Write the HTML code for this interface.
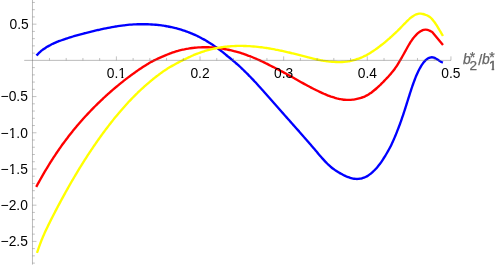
<!DOCTYPE html>
<html lang="en"><head><meta charset="utf-8"><title>Plot</title>
<style>html,body{margin:0;padding:0;background:#fff;width:498px;height:266px;overflow:hidden}</style>
</head><body>
<svg width="498" height="266" viewBox="0 0 498 266" style="position:absolute;left:0;top:0;will-change:transform">
<rect width="498" height="266" fill="#fff"/>
<path d="M36.50 55.49 C36.72 55.26 37.38 54.53 37.84 54.07 C38.29 53.61 38.76 53.15 39.24 52.71 C39.72 52.26 40.21 51.83 40.71 51.41 C41.21 50.99 41.72 50.58 42.24 50.18 C42.76 49.78 43.29 49.39 43.82 49.01 C44.36 48.64 44.91 48.27 45.46 47.91 C46.01 47.55 46.57 47.20 47.14 46.86 C47.71 46.52 48.28 46.19 48.85 45.87 C49.43 45.54 50.01 45.23 50.60 44.92 C51.19 44.62 51.78 44.32 52.37 44.03 C52.97 43.74 53.57 43.46 54.17 43.19 C54.78 42.91 55.39 42.65 56.00 42.39 C56.61 42.13 57.22 41.88 57.84 41.64 C58.46 41.39 59.08 41.15 59.70 40.92 C60.32 40.68 60.95 40.46 61.57 40.23 C62.20 40.01 62.83 39.79 63.46 39.57 C64.08 39.35 64.72 39.14 65.35 38.93 C65.98 38.72 66.61 38.51 67.24 38.30 C67.88 38.10 68.51 37.89 69.15 37.69 C69.78 37.49 70.42 37.29 71.05 37.09 C71.69 36.89 72.33 36.70 72.96 36.50 C73.60 36.31 74.24 36.12 74.88 35.93 C75.52 35.74 76.16 35.56 76.80 35.37 C77.44 35.19 78.08 35.01 78.72 34.83 C79.36 34.65 80.00 34.47 80.64 34.29 C81.29 34.12 81.93 33.94 82.57 33.77 C83.22 33.60 83.86 33.43 84.51 33.26 C85.15 33.10 85.80 32.93 86.44 32.77 C87.09 32.61 87.74 32.45 88.38 32.29 C89.03 32.13 89.68 31.97 90.33 31.81 C90.97 31.66 91.62 31.51 92.27 31.35 C92.92 31.20 93.57 31.05 94.22 30.89 C94.87 30.74 95.52 30.59 96.17 30.44 C96.82 30.29 97.47 30.14 98.12 29.99 C98.77 29.85 99.43 29.70 100.08 29.56 C100.73 29.42 101.38 29.27 102.04 29.14 C102.69 29.00 103.34 28.86 104.00 28.72 C104.65 28.59 105.30 28.45 105.96 28.32 C106.61 28.19 107.27 28.06 107.92 27.93 C108.58 27.81 109.24 27.68 109.89 27.56 C110.55 27.44 111.20 27.32 111.86 27.20 C112.52 27.08 113.18 26.97 113.83 26.85 C114.49 26.74 115.15 26.63 115.81 26.52 C116.47 26.42 117.13 26.31 117.79 26.21 C118.44 26.11 119.10 26.01 119.76 25.91 C120.43 25.81 121.09 25.72 121.75 25.63 C122.41 25.54 123.07 25.45 123.73 25.37 C124.39 25.29 125.06 25.20 125.72 25.13 C126.38 25.05 127.04 24.97 127.71 24.90 C128.37 24.83 129.03 24.76 129.70 24.70 C130.36 24.64 131.03 24.60 131.69 24.55 C132.35 24.51 133.02 24.47 133.68 24.44 C134.35 24.40 135.02 24.37 135.68 24.34 C136.35 24.31 137.01 24.29 137.68 24.27 C138.34 24.25 139.01 24.23 139.68 24.22 C140.34 24.21 141.01 24.20 141.68 24.20 C142.34 24.20 143.01 24.20 143.68 24.20 C144.34 24.21 145.01 24.22 145.68 24.23 C146.34 24.24 147.01 24.26 147.68 24.28 C148.34 24.30 149.01 24.32 149.67 24.35 C150.34 24.38 151.01 24.42 151.67 24.46 C152.34 24.49 153.00 24.54 153.67 24.59 C154.34 24.64 155.00 24.69 155.67 24.75 C156.33 24.81 156.99 24.87 157.66 24.94 C158.32 25.01 158.99 25.08 159.65 25.16 C160.31 25.24 160.97 25.33 161.64 25.42 C162.30 25.51 162.96 25.60 163.62 25.70 C164.28 25.80 164.94 25.91 165.60 26.02 C166.26 26.13 166.92 26.25 167.57 26.37 C168.23 26.50 168.89 26.62 169.54 26.76 C170.20 26.89 170.85 27.03 171.50 27.17 C172.15 27.32 172.81 27.46 173.46 27.61 C174.11 27.77 174.76 27.92 175.40 28.08 C176.05 28.25 176.70 28.41 177.34 28.59 C177.99 28.76 178.63 28.94 179.27 29.13 C179.92 29.31 180.56 29.50 181.20 29.70 C181.83 29.89 182.47 30.10 183.11 30.30 C183.74 30.51 184.37 30.72 185.01 30.94 C185.64 31.16 186.27 31.39 186.90 31.61 C187.52 31.84 188.15 32.08 188.77 32.32 C189.40 32.56 190.02 32.81 190.64 33.06 C191.26 33.31 191.87 33.57 192.49 33.83 C193.10 34.09 193.72 34.36 194.33 34.63 C194.94 34.91 195.55 35.18 196.15 35.47 C196.76 35.75 197.36 36.04 197.96 36.33 C198.56 36.63 199.16 36.93 199.76 37.23 C200.35 37.53 200.95 37.84 201.54 38.16 C202.13 38.47 202.72 38.79 203.30 39.11 C203.89 39.44 204.47 39.77 205.05 40.11 C205.64 40.45 206.21 40.79 206.79 41.13 C207.37 41.48 207.94 41.83 208.51 42.18 C209.08 42.53 209.65 42.89 210.21 43.25 C210.78 43.61 211.34 43.98 211.90 44.34 C212.47 44.71 213.02 45.09 213.58 45.46 C214.14 45.84 214.69 46.22 215.24 46.60 C215.79 46.98 216.34 47.37 216.89 47.76 C217.43 48.15 217.98 48.54 218.52 48.94 C219.06 49.34 219.60 49.74 220.14 50.14 C220.67 50.54 221.21 50.94 221.74 51.35 C222.27 51.77 222.80 52.20 223.33 52.63 C223.86 53.05 224.39 53.49 224.91 53.92 C225.43 54.36 225.95 54.79 226.47 55.23 C226.99 55.67 227.51 56.13 228.03 56.56 C228.54 56.98 229.05 57.37 229.56 57.78 C230.08 58.19 230.58 58.61 231.09 59.02 C231.60 59.44 232.10 59.86 232.61 60.28 C233.11 60.70 233.61 61.12 234.11 61.55 C234.61 61.97 235.10 62.40 235.60 62.83 C236.09 63.26 236.59 63.69 237.08 64.13 C237.57 64.56 238.06 65.00 238.55 65.44 C239.03 65.87 239.52 66.31 240.00 66.76 C240.49 67.20 240.97 67.66 241.45 68.12 C241.93 68.58 242.41 69.03 242.88 69.49 C243.36 69.95 243.84 70.42 244.31 70.88 C244.78 71.34 245.26 71.81 245.73 72.27 C246.20 72.74 246.67 73.20 247.13 73.67 C247.60 74.14 248.07 74.61 248.53 75.08 C249.00 75.55 249.46 76.02 249.92 76.50 C250.39 76.97 250.85 77.46 251.31 77.95 C251.77 78.43 252.23 78.92 252.69 79.40 C253.14 79.89 253.60 80.38 254.06 80.87 C254.51 81.35 254.97 81.84 255.42 82.33 C255.88 82.82 256.33 83.31 256.78 83.80 C257.23 84.30 257.68 84.79 258.13 85.28 C258.59 85.77 259.04 86.27 259.48 86.76 C259.93 87.26 260.38 87.75 260.83 88.25 C261.28 88.74 261.72 89.24 262.17 89.73 C262.62 90.23 263.06 90.73 263.51 91.22 C263.95 91.72 264.40 92.22 264.84 92.71 C265.29 93.21 265.73 93.71 266.18 94.21 C266.62 94.71 267.06 95.21 267.50 95.71 C267.95 96.21 268.39 96.70 268.83 97.20 C269.27 97.70 269.72 98.20 270.16 98.70 C270.60 99.20 271.04 99.70 271.48 100.20 C271.92 100.70 272.36 101.20 272.80 101.70 C273.24 102.20 273.69 102.71 274.13 103.21 C274.57 103.71 275.01 104.21 275.45 104.71 C275.89 105.21 276.33 105.71 276.77 106.21 C277.21 106.71 277.65 107.21 278.09 107.71 C278.53 108.21 278.97 108.71 279.41 109.21 C279.85 109.71 280.30 110.21 280.74 110.71 C281.18 111.21 281.62 111.71 282.06 112.20 C282.50 112.70 282.94 113.20 283.39 113.70 C283.83 114.20 284.27 114.70 284.71 115.20 C285.16 115.70 285.60 116.19 286.04 116.69 C286.48 117.19 286.92 117.69 287.37 118.19 C287.81 118.69 288.25 119.19 288.69 119.68 C289.14 120.18 289.58 120.68 290.02 121.18 C290.47 121.68 290.91 122.18 291.35 122.68 C291.79 123.17 292.24 123.67 292.68 124.17 C293.12 124.67 293.56 125.17 294.01 125.67 C294.45 126.17 294.89 126.67 295.33 127.17 C295.77 127.67 296.22 128.17 296.66 128.67 C297.10 129.16 297.54 129.66 297.98 130.16 C298.42 130.66 298.86 131.17 299.31 131.67 C299.75 132.17 300.19 132.67 300.63 133.17 C301.07 133.67 301.51 134.17 301.95 134.67 C302.39 135.17 302.83 135.67 303.27 136.18 C303.71 136.68 304.15 137.18 304.58 137.68 C305.02 138.19 305.46 138.69 305.90 139.19 C306.34 139.70 306.77 140.20 307.21 140.70 C307.65 141.21 308.09 141.71 308.52 142.22 C308.96 142.72 309.39 143.23 309.83 143.73 C310.27 144.24 310.70 144.75 311.14 145.25 C311.57 145.76 312.00 146.27 312.44 146.77 C312.87 147.28 313.30 147.79 313.74 148.30 C314.17 148.81 314.60 149.31 315.03 149.82 C315.46 150.33 315.89 150.84 316.33 151.35 C316.76 151.86 317.19 152.37 317.62 152.88 C318.05 153.39 318.48 153.89 318.91 154.40 C319.34 154.91 319.77 155.41 320.21 155.91 C320.64 156.42 321.08 156.92 321.51 157.41 C321.95 157.91 322.39 158.41 322.83 158.90 C323.28 159.39 323.72 159.88 324.17 160.37 C324.62 160.86 325.07 161.34 325.53 161.82 C325.98 162.29 326.44 162.77 326.91 163.23 C327.37 163.70 327.84 164.16 328.32 164.61 C328.80 165.06 329.28 165.51 329.77 165.95 C330.26 166.38 330.76 166.81 331.26 167.23 C331.77 167.65 332.28 168.06 332.80 168.46 C333.32 168.86 333.85 169.25 334.39 169.63 C334.92 170.02 335.47 170.39 336.02 170.76 C336.56 171.12 337.12 171.48 337.68 171.83 C338.24 172.18 338.81 172.52 339.38 172.86 C339.95 173.19 340.52 173.52 341.10 173.84 C341.68 174.16 342.26 174.48 342.85 174.78 C343.44 175.09 344.03 175.39 344.62 175.67 C345.22 175.95 345.82 176.23 346.43 176.49 C347.04 176.75 347.65 176.99 348.27 177.22 C348.89 177.45 349.51 177.66 350.14 177.85 C350.78 178.04 351.41 178.22 352.06 178.36 C352.70 178.51 353.35 178.64 354.01 178.73 C354.66 178.82 355.32 178.89 355.99 178.93 C356.65 178.96 357.32 178.96 357.98 178.93 C358.65 178.89 359.32 178.82 359.98 178.71 C360.64 178.60 361.28 178.45 361.95 178.26 C362.63 178.07 363.35 177.84 364.02 177.58 C364.70 177.32 365.37 177.02 366.02 176.69 C366.67 176.37 367.30 176.00 367.91 175.63 C368.53 175.25 369.13 174.84 369.71 174.42 C370.29 174.00 370.86 173.56 371.41 173.11 C371.96 172.66 372.51 172.19 373.02 171.71 C373.54 171.24 374.02 170.75 374.50 170.25 C374.99 169.75 375.46 169.25 375.92 168.74 C376.39 168.22 376.84 167.70 377.29 167.18 C377.73 166.65 378.17 166.12 378.60 165.58 C379.03 165.05 379.45 164.50 379.87 163.96 C380.28 163.41 380.70 162.86 381.09 162.31 C381.49 161.75 381.86 161.19 382.23 160.63 C382.60 160.07 382.97 159.51 383.33 158.94 C383.70 158.38 384.06 157.81 384.41 157.23 C384.77 156.66 385.11 156.09 385.46 155.51 C385.81 154.94 386.15 154.36 386.49 153.78 C386.83 153.20 387.16 152.61 387.49 152.03 C387.82 151.44 388.15 150.86 388.48 150.27 C388.80 149.68 389.12 149.09 389.44 148.49 C389.76 147.90 390.07 147.31 390.38 146.71 C390.69 146.11 390.99 145.51 391.28 144.91 C391.58 144.31 391.85 143.71 392.14 143.10 C392.42 142.50 392.69 141.89 392.97 141.29 C393.24 140.68 393.51 140.07 393.78 139.46 C394.05 138.85 394.32 138.24 394.58 137.62 C394.84 137.01 395.10 136.40 395.36 135.78 C395.61 135.17 395.87 134.55 396.12 133.93 C396.37 133.31 396.62 132.69 396.86 132.07 C397.11 131.45 397.35 130.83 397.59 130.20 C397.83 129.58 398.07 128.96 398.30 128.33 C398.54 127.71 398.78 127.08 399.02 126.45 C399.26 125.83 399.50 125.20 399.73 124.57 C399.96 123.94 400.19 123.31 400.42 122.68 C400.65 122.05 400.88 121.42 401.10 120.78 C401.33 120.15 401.55 119.52 401.77 118.88 C401.99 118.25 402.21 117.62 402.42 116.98 C402.64 116.35 402.85 115.71 403.07 115.07 C403.28 114.44 403.49 113.80 403.70 113.17 C403.91 112.53 404.11 111.89 404.32 111.26 C404.52 110.62 404.73 109.99 404.93 109.35 C405.14 108.71 405.34 108.08 405.54 107.44 C405.74 106.81 405.94 106.17 406.14 105.54 C406.34 104.90 406.54 104.27 406.74 103.63 C406.94 103.00 407.14 102.36 407.34 101.73 C407.54 101.09 407.74 100.46 407.94 99.83 C408.14 99.19 408.34 98.56 408.54 97.93 C408.74 97.29 408.94 96.66 409.14 96.03 C409.34 95.40 409.54 94.77 409.74 94.14 C409.94 93.51 410.15 92.88 410.35 92.25 C410.55 91.62 410.76 90.99 410.96 90.36 C411.17 89.73 411.38 89.11 411.59 88.48 C411.79 87.86 412.00 87.23 412.22 86.61 C412.43 85.99 412.64 85.36 412.86 84.74 C413.08 84.12 413.29 83.50 413.51 82.89 C413.74 82.27 413.96 81.65 414.19 81.04 C414.41 80.42 414.64 79.81 414.88 79.20 C415.11 78.59 415.36 77.98 415.61 77.38 C415.86 76.77 416.11 76.17 416.37 75.57 C416.63 74.97 416.89 74.37 417.16 73.77 C417.42 73.18 417.70 72.58 417.98 71.99 C418.26 71.41 418.54 70.82 418.83 70.24 C419.13 69.66 419.42 69.08 419.73 68.51 C420.04 67.94 420.36 67.38 420.68 66.82 C421.01 66.26 421.34 65.71 421.69 65.17 C422.04 64.63 422.40 64.10 422.77 63.58 C423.15 63.06 423.54 62.56 423.95 62.07 C424.35 61.58 424.78 61.10 425.22 60.66 C425.67 60.21 426.14 59.77 426.63 59.39 C427.13 59.00 427.65 58.62 428.20 58.32 C428.75 58.02 429.33 57.74 429.94 57.56 C430.55 57.38 431.20 57.25 431.85 57.25 C432.50 57.25 433.20 57.36 433.85 57.55 C434.50 57.74 435.15 58.08 435.76 58.41 C436.37 58.74 436.93 59.14 437.50 59.52 C438.06 59.89 438.60 60.29 439.15 60.66 C439.70 61.03 440.18 61.38 440.80 61.72 C441.43 62.06 442.55 62.53 442.90 62.69" fill="none" stroke="#0000ff" stroke-width="2.35" stroke-linejoin="round" stroke-linecap="butt"/>
<path d="M36.16 186.92 C36.22 186.82 36.28 186.70 36.50 186.31 C36.72 185.91 37.14 185.14 37.46 184.56 C37.78 183.98 38.10 183.39 38.42 182.81 C38.74 182.23 39.06 181.65 39.39 181.07 C39.71 180.49 40.04 179.91 40.36 179.33 C40.69 178.75 41.02 178.18 41.35 177.60 C41.67 177.02 42.00 176.45 42.34 175.87 C42.67 175.29 43.00 174.72 43.33 174.15 C43.67 173.57 44.00 173.00 44.34 172.43 C44.67 171.85 45.01 171.28 45.35 170.71 C45.69 170.14 46.03 169.57 46.37 169.00 C46.71 168.43 47.06 167.86 47.40 167.30 C47.75 166.73 48.09 166.16 48.44 165.60 C48.79 165.03 49.14 164.47 49.49 163.90 C49.84 163.34 50.19 162.78 50.54 162.21 C50.90 161.65 51.25 161.09 51.61 160.53 C51.97 159.97 52.32 159.41 52.68 158.86 C53.04 158.30 53.41 157.74 53.77 157.19 C54.13 156.63 54.50 156.08 54.86 155.52 C55.23 154.97 55.60 154.42 55.97 153.87 C56.34 153.31 56.71 152.76 57.08 152.22 C57.45 151.67 57.83 151.12 58.20 150.57 C58.58 150.02 58.96 149.48 59.34 148.93 C59.72 148.39 60.10 147.85 60.48 147.30 C60.86 146.76 61.25 146.22 61.64 145.68 C62.02 145.14 62.41 144.60 62.80 144.07 C63.19 143.53 63.58 142.99 63.97 142.46 C64.37 141.92 64.76 141.39 65.16 140.86 C65.55 140.32 65.95 139.79 66.35 139.26 C66.75 138.73 67.15 138.20 67.56 137.68 C67.96 137.15 68.36 136.62 68.77 136.10 C69.18 135.57 69.59 135.05 70.00 134.53 C70.41 134.01 70.82 133.48 71.23 132.97 C71.65 132.45 72.06 131.93 72.48 131.41 C72.89 130.89 73.31 130.38 73.73 129.86 C74.15 129.35 74.57 128.84 75.00 128.33 C75.42 127.81 75.85 127.30 76.27 126.80 C76.70 126.29 77.13 125.78 77.56 125.27 C77.99 124.77 78.42 124.26 78.86 123.76 C79.29 123.26 79.72 122.76 80.16 122.25 C80.60 121.75 81.04 121.26 81.48 120.76 C81.92 120.26 82.36 119.76 82.80 119.27 C83.24 118.77 83.69 118.28 84.13 117.79 C84.58 117.30 85.03 116.81 85.48 116.32 C85.93 115.83 86.38 115.34 86.83 114.85 C87.28 114.37 87.74 113.88 88.19 113.40 C88.65 112.91 89.11 112.43 89.56 111.95 C90.02 111.47 90.48 110.99 90.94 110.51 C91.40 110.03 91.87 109.55 92.33 109.08 C92.79 108.60 93.26 108.13 93.73 107.65 C94.19 107.18 94.66 106.71 95.13 106.24 C95.60 105.77 96.07 105.30 96.54 104.83 C97.02 104.36 97.49 103.90 97.97 103.43 C98.44 102.97 98.92 102.51 99.40 102.04 C99.88 101.58 100.35 101.12 100.84 100.66 C101.32 100.21 101.80 99.75 102.28 99.29 C102.77 98.84 103.25 98.38 103.74 97.93 C104.23 97.48 104.71 97.03 105.20 96.58 C105.69 96.13 106.18 95.68 106.68 95.23 C107.17 94.79 107.66 94.34 108.16 93.90 C108.65 93.45 109.15 93.01 109.65 92.57 C110.15 92.13 110.65 91.69 111.15 91.25 C111.65 90.82 112.15 90.38 112.65 89.95 C113.16 89.51 113.66 89.08 114.17 88.65 C114.68 88.22 115.18 87.79 115.69 87.36 C116.20 86.94 116.71 86.51 117.22 86.09 C117.74 85.66 118.25 85.24 118.76 84.82 C119.28 84.40 119.79 83.98 120.31 83.56 C120.83 83.14 121.35 82.73 121.87 82.31 C122.39 81.90 122.91 81.49 123.43 81.07 C123.96 80.66 124.48 80.25 125.01 79.85 C125.53 79.44 126.06 79.03 126.59 78.63 C127.11 78.22 127.64 77.82 128.17 77.42 C128.70 77.02 129.24 76.62 129.77 76.22 C130.30 75.83 130.84 75.43 131.37 75.04 C131.91 74.64 132.45 74.25 132.98 73.86 C133.52 73.47 134.06 73.08 134.60 72.70 C135.15 72.31 135.69 71.93 136.23 71.54 C136.78 71.16 137.32 70.78 137.87 70.40 C138.42 70.03 138.96 69.65 139.51 69.28 C140.06 68.90 140.62 68.53 141.17 68.17 C141.72 67.80 142.28 67.43 142.83 67.07 C143.39 66.71 143.95 66.35 144.51 65.99 C145.07 65.63 145.63 65.28 146.20 64.92 C146.76 64.57 147.33 64.22 147.89 63.88 C148.46 63.53 149.03 63.18 149.60 62.85 C150.17 62.52 150.75 62.21 151.32 61.90 C151.90 61.59 152.47 61.29 153.05 60.99 C153.63 60.69 154.21 60.39 154.80 60.10 C155.38 59.81 155.97 59.52 156.55 59.24 C157.14 58.95 157.73 58.67 158.32 58.40 C158.91 58.12 159.51 57.85 160.11 57.58 C160.70 57.32 161.30 57.06 161.90 56.80 C162.50 56.54 163.11 56.30 163.71 56.05 C164.32 55.80 164.93 55.55 165.54 55.30 C166.15 55.05 166.76 54.78 167.37 54.53 C167.99 54.28 168.61 54.03 169.23 53.79 C169.84 53.56 170.47 53.32 171.09 53.10 C171.72 52.87 172.34 52.65 172.97 52.43 C173.60 52.22 174.23 52.01 174.86 51.81 C175.50 51.61 176.13 51.41 176.77 51.22 C177.41 51.04 178.05 50.85 178.69 50.68 C179.33 50.50 179.97 50.33 180.62 50.17 C181.26 50.01 181.91 49.85 182.56 49.70 C183.20 49.56 183.85 49.41 184.51 49.28 C185.16 49.14 185.81 49.01 186.46 48.89 C187.12 48.77 187.77 48.65 188.43 48.55 C189.09 48.44 189.74 48.34 190.40 48.24 C191.06 48.15 191.72 48.06 192.38 47.98 C193.04 47.89 193.70 47.82 194.37 47.75 C195.03 47.68 195.69 47.62 196.36 47.57 C197.02 47.51 197.68 47.46 198.35 47.42 C199.01 47.38 199.68 47.35 200.35 47.32 C201.01 47.29 201.68 47.27 202.34 47.25 C203.01 47.24 203.68 47.23 204.34 47.23 C205.01 47.22 205.68 47.23 206.34 47.24 C207.01 47.25 207.68 47.27 208.34 47.29 C209.01 47.31 209.68 47.34 210.34 47.37 C211.01 47.41 211.67 47.45 212.34 47.50 C213.00 47.54 213.67 47.60 214.33 47.65 C215.00 47.71 215.66 47.78 216.33 47.85 C216.99 47.92 217.65 48.00 218.32 48.08 C218.98 48.16 219.64 48.25 220.30 48.34 C220.96 48.43 221.62 48.53 222.28 48.64 C222.94 48.74 223.60 48.85 224.26 48.97 C224.91 49.08 225.57 49.20 226.23 49.33 C226.88 49.46 227.54 49.59 228.19 49.73 C228.84 49.86 229.50 50.01 230.15 50.15 C230.80 50.30 231.45 50.45 232.10 50.61 C232.75 50.77 233.39 50.93 234.04 51.10 C234.69 51.26 235.33 51.44 235.98 51.61 C236.62 51.79 237.26 51.97 237.91 52.16 C238.55 52.35 239.19 52.54 239.83 52.73 C240.47 52.93 241.10 53.13 241.74 53.34 C242.37 53.54 243.01 53.75 243.64 53.96 C244.28 54.18 244.91 54.39 245.54 54.62 C246.17 54.84 246.80 55.07 247.42 55.30 C248.05 55.53 248.68 55.76 249.30 56.00 C249.92 56.24 250.55 56.48 251.17 56.73 C251.79 56.97 252.41 57.22 253.03 57.48 C253.65 57.73 254.26 57.99 254.88 58.25 C255.49 58.51 256.11 58.78 256.72 59.04 C257.33 59.31 257.94 59.58 258.55 59.86 C259.16 60.13 259.77 60.41 260.38 60.69 C260.98 60.97 261.59 61.25 262.19 61.53 C262.80 61.82 263.40 62.11 264.00 62.40 C264.60 62.69 265.20 62.98 265.80 63.28 C266.40 63.58 267.00 63.87 267.59 64.17 C268.19 64.47 268.79 64.78 269.38 65.08 C269.97 65.39 270.57 65.70 271.16 66.00 C271.75 66.30 272.34 66.58 272.93 66.87 C273.52 67.17 274.11 67.46 274.70 67.76 C275.29 68.06 275.87 68.35 276.46 68.66 C277.05 68.96 277.63 69.26 278.22 69.56 C278.80 69.87 279.38 70.17 279.97 70.48 C280.55 70.79 281.13 71.09 281.71 71.40 C282.29 71.71 282.87 72.02 283.45 72.34 C284.03 72.65 284.61 72.96 285.19 73.28 C285.77 73.59 286.35 73.90 286.92 74.22 C287.50 74.54 288.08 74.86 288.65 75.17 C289.23 75.49 289.80 75.81 290.38 76.13 C290.95 76.45 291.53 76.77 292.10 77.09 C292.67 77.41 293.25 77.74 293.82 78.06 C294.39 78.38 294.97 78.70 295.54 79.03 C296.11 79.35 296.69 79.67 297.26 79.99 C297.83 80.31 298.40 80.63 298.98 80.96 C299.55 81.28 300.12 81.60 300.70 81.92 C301.27 82.24 301.85 82.57 302.42 82.89 C303.00 83.21 303.57 83.53 304.15 83.85 C304.72 84.17 305.30 84.49 305.88 84.81 C306.46 85.12 307.03 85.44 307.61 85.75 C308.19 86.06 308.77 86.38 309.35 86.68 C309.94 86.99 310.50 87.29 311.10 87.60 C311.70 87.92 312.32 88.23 312.96 88.56 C313.59 88.89 314.27 89.23 314.93 89.56 C315.58 89.89 316.24 90.21 316.91 90.53 C317.57 90.86 318.23 91.17 318.90 91.49 C319.56 91.80 320.23 92.12 320.90 92.42 C321.57 92.73 322.24 93.03 322.92 93.33 C323.59 93.62 324.27 93.92 324.95 94.20 C325.63 94.49 326.31 94.77 327.00 95.04 C327.68 95.32 328.39 95.60 329.06 95.85 C329.73 96.10 330.38 96.34 331.02 96.57 C331.66 96.79 332.28 97.00 332.92 97.21 C333.55 97.41 334.19 97.61 334.83 97.80 C335.47 97.98 336.12 98.16 336.76 98.33 C337.41 98.49 338.06 98.65 338.71 98.79 C339.37 98.93 340.02 99.06 340.68 99.18 C341.34 99.30 342.00 99.40 342.66 99.49 C343.32 99.58 343.99 99.66 344.66 99.72 C345.32 99.78 345.99 99.82 346.66 99.85 C347.33 99.88 348.00 99.89 348.67 99.89 C349.34 99.88 350.01 99.86 350.69 99.82 C351.36 99.78 352.04 99.72 352.74 99.65 C353.43 99.57 354.15 99.47 354.85 99.36 C355.55 99.25 356.25 99.12 356.95 98.97 C357.64 98.82 358.34 98.65 359.02 98.46 C359.71 98.27 360.39 98.07 361.07 97.85 C361.74 97.63 362.41 97.39 363.08 97.13 C363.74 96.87 364.40 96.60 365.05 96.31 C365.69 96.02 366.37 95.72 366.96 95.40 C367.56 95.08 368.08 94.75 368.63 94.40 C369.18 94.06 369.72 93.70 370.25 93.33 C370.79 92.96 371.31 92.58 371.84 92.19 C372.36 91.80 372.87 91.41 373.38 91.00 C373.89 90.60 374.40 90.19 374.90 89.77 C375.40 89.35 375.89 88.93 376.38 88.50 C376.87 88.07 377.35 87.64 377.83 87.20 C378.31 86.77 378.77 86.33 379.24 85.88 C379.71 85.44 380.17 84.99 380.64 84.54 C381.10 84.09 381.56 83.63 382.01 83.18 C382.47 82.72 382.92 82.27 383.38 81.81 C383.83 81.35 384.28 80.89 384.73 80.42 C385.18 79.96 385.63 79.50 386.07 79.03 C386.51 78.57 386.95 78.11 387.38 77.64 C387.82 77.17 388.24 76.70 388.67 76.23 C389.10 75.76 389.52 75.28 389.95 74.80 C390.37 74.32 390.79 73.83 391.21 73.34 C391.62 72.85 392.03 72.36 392.44 71.86 C392.85 71.35 393.25 70.85 393.64 70.33 C394.04 69.82 394.42 69.30 394.80 68.78 C395.18 68.25 395.55 67.72 395.92 67.18 C396.29 66.64 396.65 66.10 397.00 65.55 C397.35 65.00 397.70 64.45 398.04 63.89 C398.39 63.33 398.72 62.77 399.05 62.20 C399.38 61.63 399.68 61.05 400.02 60.47 C400.35 59.90 400.72 59.31 401.07 58.73 C401.41 58.15 401.75 57.56 402.08 56.98 C402.42 56.39 402.74 55.80 403.07 55.22 C403.40 54.63 403.72 54.04 404.04 53.46 C404.37 52.87 404.69 52.29 405.01 51.70 C405.33 51.12 405.65 50.53 405.97 49.95 C406.29 49.37 406.61 48.79 406.94 48.21 C407.26 47.63 407.58 47.06 407.91 46.48 C408.24 45.91 408.57 45.34 408.91 44.77 C409.24 44.21 409.58 43.65 409.92 43.09 C410.27 42.53 410.62 41.98 410.98 41.44 C411.33 40.89 411.70 40.36 412.07 39.83 C412.45 39.30 412.84 38.77 413.23 38.26 C413.63 37.75 414.03 37.24 414.45 36.75 C414.87 36.26 415.30 35.77 415.75 35.31 C416.19 34.84 416.65 34.38 417.12 33.94 C417.60 33.51 418.09 33.08 418.59 32.68 C419.10 32.29 419.62 31.90 420.16 31.55 C420.70 31.21 421.26 30.88 421.84 30.61 C422.42 30.34 423.02 30.10 423.65 29.94 C424.27 29.78 424.92 29.67 425.58 29.66 C426.24 29.65 426.92 29.73 427.58 29.89 C428.24 30.05 429.20 30.48 429.52 30.60 L432.20 32.00 L443.00 44.90" fill="none" stroke="#ff0000" stroke-width="2.35" stroke-linejoin="round" stroke-linecap="butt"/>
<path d="M36.96 252.96 C37.02 252.80 37.13 252.48 37.28 252.01 C37.44 251.54 37.70 250.77 37.91 250.14 C38.12 249.52 38.33 248.90 38.55 248.28 C38.76 247.66 38.98 247.04 39.21 246.42 C39.43 245.80 39.66 245.18 39.89 244.57 C40.11 243.95 40.35 243.34 40.58 242.72 C40.82 242.11 41.06 241.50 41.30 240.88 C41.54 240.27 41.79 239.66 42.04 239.05 C42.28 238.44 42.54 237.84 42.79 237.23 C43.05 236.62 43.31 236.02 43.57 235.41 C43.83 234.81 44.10 234.21 44.36 233.60 C44.63 233.00 44.90 232.40 45.18 231.80 C45.45 231.20 45.73 230.60 46.01 230.00 C46.29 229.41 46.57 228.81 46.86 228.21 C47.14 227.62 47.43 227.02 47.72 226.43 C48.01 225.83 48.30 225.23 48.60 224.64 C48.89 224.05 49.19 223.45 49.48 222.86 C49.78 222.26 50.08 221.67 50.38 221.07 C50.68 220.48 50.97 219.89 51.27 219.29 C51.57 218.70 51.88 218.10 52.18 217.51 C52.48 216.92 52.78 216.33 53.08 215.73 C53.39 215.14 53.69 214.55 53.99 213.96 C54.30 213.37 54.60 212.78 54.91 212.18 C55.21 211.59 55.52 211.00 55.83 210.41 C56.13 209.82 56.44 209.23 56.75 208.65 C57.06 208.06 57.37 207.47 57.68 206.88 C57.99 206.29 58.30 205.70 58.61 205.11 C58.92 204.53 59.23 203.94 59.55 203.35 C59.86 202.77 60.17 202.18 60.49 201.59 C60.80 201.01 61.12 200.42 61.43 199.84 C61.75 199.25 62.07 198.67 62.38 198.08 C62.70 197.50 63.02 196.92 63.34 196.33 C63.66 195.75 63.98 195.17 64.30 194.58 C64.62 194.00 64.94 193.42 65.26 192.84 C65.59 192.26 65.91 191.67 66.23 191.09 C66.56 190.51 66.88 189.93 67.21 189.35 C67.53 188.77 67.86 188.19 68.19 187.62 C68.52 187.04 68.84 186.46 69.17 185.88 C69.50 185.30 69.83 184.73 70.16 184.15 C70.49 183.57 70.82 183.00 71.16 182.42 C71.49 181.84 71.82 181.27 72.16 180.69 C72.49 180.12 72.83 179.54 73.16 178.97 C73.50 178.40 73.84 177.82 74.17 177.25 C74.51 176.68 74.85 176.11 75.19 175.53 C75.53 174.96 75.87 174.39 76.21 173.82 C76.55 173.25 76.89 172.68 77.24 172.11 C77.58 171.54 77.92 170.97 78.27 170.40 C78.62 169.84 78.96 169.27 79.31 168.70 C79.65 168.13 80.00 167.57 80.35 167.00 C80.70 166.44 81.05 165.87 81.40 165.31 C81.75 164.74 82.10 164.18 82.46 163.61 C82.81 163.05 83.16 162.49 83.52 161.92 C83.87 161.36 84.23 160.80 84.58 160.24 C84.94 159.68 85.30 159.12 85.66 158.56 C86.02 158.00 86.38 157.44 86.74 156.88 C87.10 156.32 87.46 155.76 87.82 155.21 C88.18 154.65 88.55 154.09 88.91 153.54 C89.28 152.98 89.64 152.43 90.01 151.87 C90.38 151.32 90.74 150.76 91.11 150.21 C91.48 149.66 91.85 149.11 92.22 148.56 C92.60 148.00 92.97 147.45 93.34 146.90 C93.71 146.35 94.09 145.80 94.46 145.26 C94.84 144.71 95.22 144.16 95.59 143.61 C95.97 143.07 96.35 142.52 96.73 141.97 C97.11 141.43 97.49 140.88 97.87 140.34 C98.26 139.80 98.64 139.25 99.03 138.71 C99.41 138.17 99.80 137.63 100.18 137.09 C100.57 136.55 100.96 136.01 101.35 135.47 C101.74 134.93 102.13 134.40 102.52 133.86 C102.91 133.32 103.31 132.79 103.70 132.25 C104.10 131.72 104.49 131.18 104.89 130.65 C105.29 130.12 105.68 129.59 106.08 129.06 C106.48 128.53 106.88 128.00 107.29 127.47 C107.69 126.94 108.09 126.41 108.50 125.88 C108.90 125.36 109.31 124.83 109.72 124.31 C110.12 123.78 110.53 123.26 110.94 122.74 C111.35 122.21 111.77 121.69 112.18 121.17 C112.59 120.65 113.01 120.13 113.42 119.61 C113.84 119.10 114.26 118.58 114.68 118.06 C115.10 117.55 115.52 117.03 115.94 116.52 C116.36 116.01 116.78 115.50 117.21 114.99 C117.63 114.48 118.06 113.97 118.49 113.46 C118.92 112.95 119.35 112.44 119.78 111.94 C120.21 111.43 120.64 110.93 121.07 110.43 C121.51 109.92 121.94 109.42 122.38 108.92 C122.82 108.42 123.26 107.92 123.70 107.43 C124.14 106.93 124.58 106.44 125.03 105.94 C125.47 105.45 125.92 104.95 126.36 104.46 C126.81 103.97 127.26 103.48 127.71 103.00 C128.16 102.51 128.61 102.02 129.07 101.54 C129.52 101.05 129.98 100.57 130.44 100.09 C130.89 99.61 131.35 99.13 131.82 98.65 C132.28 98.17 132.74 97.70 133.21 97.22 C133.67 96.75 134.14 96.28 134.61 95.81 C135.07 95.34 135.55 94.87 136.02 94.40 C136.49 93.94 136.96 93.47 137.44 93.01 C137.92 92.55 138.39 92.08 138.87 91.63 C139.35 91.17 139.84 90.71 140.32 90.25 C140.80 89.80 141.29 89.35 141.78 88.90 C142.26 88.44 142.75 88.00 143.25 87.55 C143.74 87.10 144.23 86.66 144.73 86.22 C145.22 85.77 145.72 85.33 146.22 84.90 C146.72 84.46 147.22 84.02 147.72 83.59 C148.22 83.15 148.73 82.72 149.24 82.29 C149.74 81.87 150.25 81.44 150.76 81.02 C151.27 80.59 151.79 80.17 152.30 79.75 C152.82 79.33 153.33 78.91 153.85 78.50 C154.37 78.09 154.89 77.67 155.42 77.27 C155.94 76.86 156.46 76.45 156.99 76.05 C157.52 75.64 158.05 75.24 158.58 74.84 C159.11 74.44 159.64 74.05 160.18 73.65 C160.71 73.26 161.25 72.87 161.79 72.48 C162.33 72.10 162.87 71.71 163.41 71.33 C163.96 70.95 164.50 70.56 165.05 70.19 C165.60 69.83 166.15 69.49 166.70 69.15 C167.25 68.80 167.80 68.46 168.36 68.12 C168.92 67.78 169.47 67.44 170.03 67.11 C170.59 66.78 171.15 66.45 171.72 66.12 C172.28 65.80 172.85 65.47 173.41 65.15 C173.98 64.83 174.55 64.52 175.12 64.20 C175.70 63.89 176.27 63.58 176.84 63.28 C177.42 62.97 178.00 62.67 178.58 62.37 C179.16 62.07 179.74 61.78 180.32 61.49 C180.91 61.20 181.49 60.92 182.08 60.63 C182.67 60.34 183.26 60.04 183.85 59.74 C184.45 59.45 185.04 59.14 185.64 58.84 C186.23 58.54 186.83 58.25 187.43 57.96 C188.03 57.67 188.64 57.38 189.24 57.10 C189.84 56.82 190.45 56.54 191.06 56.27 C191.67 56.00 192.28 55.73 192.89 55.47 C193.50 55.21 194.12 54.95 194.74 54.70 C195.35 54.45 195.97 54.20 196.59 53.95 C197.21 53.71 197.84 53.47 198.46 53.24 C199.08 53.01 199.71 52.78 200.34 52.56 C200.97 52.33 201.60 52.11 202.23 51.90 C202.86 51.69 203.50 51.48 204.13 51.28 C204.77 51.07 205.40 50.88 206.04 50.69 C206.68 50.49 207.32 50.31 207.96 50.13 C208.61 49.95 209.25 49.78 209.90 49.61 C210.54 49.44 211.19 49.28 211.84 49.12 C212.49 48.97 213.14 48.82 213.79 48.68 C214.44 48.53 215.09 48.39 215.74 48.26 C216.40 48.13 217.05 48.00 217.71 47.88 C218.37 47.76 219.02 47.65 219.68 47.54 C220.34 47.43 221.00 47.33 221.66 47.23 C222.32 47.14 222.98 47.05 223.64 46.96 C224.30 46.87 224.96 46.79 225.63 46.72 C226.29 46.64 226.95 46.58 227.62 46.51 C228.28 46.45 228.94 46.39 229.61 46.34 C230.27 46.28 230.94 46.24 231.60 46.19 C232.27 46.15 232.94 46.12 233.60 46.08 C234.27 46.05 234.93 46.02 235.60 46.00 C236.27 45.98 236.93 45.96 237.60 45.95 C238.27 45.94 238.93 45.93 239.60 45.93 C240.27 45.92 240.93 45.93 241.60 45.93 C242.27 45.94 242.93 45.95 243.60 45.96 C244.27 45.98 244.93 45.99 245.60 46.02 C246.26 46.04 246.93 46.07 247.60 46.10 C248.26 46.13 248.93 46.16 249.59 46.20 C250.26 46.24 250.92 46.28 251.59 46.33 C252.25 46.37 252.92 46.42 253.58 46.48 C254.25 46.53 254.91 46.58 255.57 46.64 C256.24 46.70 256.90 46.77 257.56 46.84 C258.23 46.90 258.89 46.97 259.55 47.05 C260.21 47.12 260.88 47.21 261.54 47.29 C262.20 47.38 262.86 47.47 263.52 47.56 C264.18 47.65 264.84 47.75 265.50 47.85 C266.16 47.95 266.82 48.05 267.48 48.15 C268.14 48.26 268.80 48.36 269.45 48.47 C270.11 48.58 270.77 48.70 271.43 48.81 C272.08 48.93 272.74 49.05 273.40 49.17 C274.05 49.29 274.71 49.41 275.36 49.54 C276.02 49.66 276.67 49.79 277.33 49.92 C277.98 50.05 278.63 50.19 279.29 50.32 C279.94 50.46 280.59 50.60 281.25 50.73 C281.90 50.87 282.55 51.02 283.20 51.16 C283.85 51.30 284.50 51.45 285.15 51.60 C285.81 51.75 286.46 51.90 287.10 52.05 C287.75 52.20 288.40 52.36 289.05 52.51 C289.70 52.67 290.35 52.83 291.00 52.99 C291.64 53.14 292.29 53.31 292.94 53.47 C293.59 53.63 294.23 53.79 294.88 53.96 C295.53 54.12 296.17 54.29 296.82 54.45 C297.46 54.62 298.11 54.78 298.75 54.95 C299.40 55.12 300.05 55.28 300.69 55.45 C301.34 55.62 301.98 55.80 302.63 55.97 C303.27 56.14 303.92 56.31 304.57 56.47 C305.21 56.64 305.86 56.81 306.51 56.98 C307.15 57.14 307.80 57.31 308.45 57.47 C309.09 57.63 309.74 57.79 310.39 57.95 C311.04 58.11 311.69 58.27 312.34 58.42 C312.99 58.58 313.64 58.73 314.29 58.88 C314.94 59.02 315.59 59.17 316.24 59.31 C316.89 59.45 317.54 59.59 318.20 59.73 C318.85 59.86 319.50 59.99 320.16 60.12 C320.81 60.25 321.47 60.37 322.13 60.49 C322.78 60.60 323.44 60.72 324.10 60.82 C324.76 60.93 325.42 61.03 326.07 61.13 C326.73 61.22 327.40 61.31 328.06 61.39 C328.72 61.47 329.38 61.55 330.04 61.62 C330.71 61.68 331.37 61.74 332.03 61.79 C332.70 61.85 333.36 61.88 334.03 61.92 C334.70 61.96 335.36 61.99 336.03 62.02 C336.69 62.05 337.36 62.08 338.03 62.09 C338.69 62.10 339.36 62.10 340.03 62.09 C340.69 62.08 341.36 62.06 342.03 62.03 C342.69 62.00 343.36 61.95 344.02 61.90 C344.68 61.84 345.35 61.78 346.01 61.70 C346.67 61.62 347.33 61.52 347.98 61.42 C348.64 61.31 349.29 61.20 349.95 61.07 C350.60 60.94 351.25 60.80 351.90 60.65 C352.54 60.50 353.19 60.33 353.83 60.16 C354.47 59.98 355.11 59.80 355.74 59.60 C356.38 59.41 357.01 59.20 357.64 58.98 C358.26 58.76 358.89 58.54 359.51 58.30 C360.13 58.06 360.74 57.82 361.35 57.56 C361.97 57.31 362.58 57.04 363.18 56.77 C363.78 56.49 364.38 56.21 364.98 55.92 C365.57 55.62 366.17 55.31 366.75 54.99 C367.34 54.67 367.92 54.33 368.50 53.99 C369.08 53.64 369.66 53.29 370.23 52.94 C370.80 52.58 371.37 52.22 371.93 51.86 C372.49 51.49 373.05 51.12 373.61 50.74 C374.17 50.37 374.72 49.98 375.27 49.60 C375.82 49.21 376.37 48.82 376.92 48.43 C377.46 48.04 378.00 47.64 378.54 47.24 C379.08 46.84 379.62 46.43 380.15 46.03 C380.68 45.62 381.21 45.21 381.74 44.79 C382.27 44.38 382.80 43.97 383.32 43.55 C383.85 43.13 384.35 42.73 384.89 42.28 C385.43 41.84 386.00 41.36 386.55 40.89 C387.10 40.42 387.65 39.95 388.20 39.48 C388.75 39.00 389.30 38.52 389.84 38.04 C390.39 37.57 390.93 37.08 391.47 36.60 C392.01 36.12 392.54 35.63 393.07 35.14 C393.60 34.66 394.12 34.17 394.64 33.68 C395.15 33.19 395.67 32.70 396.18 32.20 C396.70 31.71 397.21 31.21 397.71 30.71 C398.22 30.21 398.73 29.70 399.23 29.19 C399.73 28.69 400.24 28.16 400.72 27.66 C401.20 27.17 401.66 26.70 402.13 26.23 C402.59 25.75 403.05 25.27 403.51 24.80 C403.96 24.32 404.42 23.85 404.88 23.38 C405.34 22.90 405.80 22.43 406.26 21.97 C406.73 21.51 407.19 21.04 407.66 20.59 C408.14 20.14 408.61 19.69 409.09 19.25 C409.57 18.82 410.06 18.39 410.56 17.97 C411.06 17.56 411.56 17.15 412.08 16.77 C412.60 16.39 413.12 16.02 413.67 15.68 C414.21 15.35 414.77 15.02 415.35 14.75 C415.92 14.47 416.52 14.22 417.13 14.03 C417.74 13.85 418.37 13.70 419.02 13.63 C419.66 13.57 420.33 13.56 420.99 13.63 C421.65 13.69 422.31 13.84 422.97 14.00 C423.62 14.16 424.27 14.35 424.91 14.56 C425.55 14.77 426.18 14.99 426.79 15.26 C427.41 15.53 428.02 15.82 428.60 16.18 C429.19 16.53 429.76 16.93 430.30 17.38 C430.84 17.83 431.35 18.34 431.83 18.85 C432.31 19.37 432.75 19.96 433.18 20.49 C433.60 21.03 434.00 21.53 434.39 22.05 C434.78 22.57 435.14 23.10 435.51 23.63 C435.87 24.16 436.23 24.69 436.57 25.23 C436.92 25.77 437.26 26.32 437.60 26.87 C437.94 27.42 438.27 27.99 438.60 28.56 C438.93 29.12 439.26 29.68 439.59 30.24 C439.91 30.80 440.24 31.35 440.57 31.91 C440.90 32.47 441.16 32.89 441.56 33.57 C441.95 34.25 442.72 35.59 442.95 36.00" fill="none" stroke="#ffff00" stroke-width="2.35" stroke-linejoin="round" stroke-linecap="butt"/>
<g stroke="#666" stroke-width="0.45" fill="none">
<path d="M24.2 60.37 H451"/>
<path d="M32.48 0 V264.6"/>
<path stroke-width="0.4" d="M49.47 60.37 v-2.40 M66.20 60.37 v-2.40 M82.92 60.37 v-2.40 M99.65 60.37 v-2.40 M116.38 60.37 v-4.00 M133.11 60.37 v-2.40 M149.84 60.37 v-2.40 M166.56 60.37 v-2.40 M183.29 60.37 v-2.40 M200.02 60.37 v-4.00 M216.75 60.37 v-2.40 M233.48 60.37 v-2.40 M250.20 60.37 v-2.40 M266.93 60.37 v-2.40 M283.66 60.37 v-4.00 M300.39 60.37 v-2.40 M317.12 60.37 v-2.40 M333.84 60.37 v-2.40 M350.57 60.37 v-2.40 M367.30 60.37 v-4.00 M384.03 60.37 v-2.40 M400.76 60.37 v-2.40 M417.48 60.37 v-2.40 M434.21 60.37 v-2.40 M450.94 60.37 v-4.00 M32.48 263.10 h2.40 M32.48 255.86 h2.40 M32.48 248.62 h2.40 M32.48 241.38 h4.00 M32.48 234.14 h2.40 M32.48 226.90 h2.40 M32.48 219.66 h2.40 M32.48 212.42 h2.40 M32.48 205.18 h4.00 M32.48 197.94 h2.40 M32.48 190.70 h2.40 M32.48 183.46 h2.40 M32.48 176.22 h2.40 M32.48 168.98 h4.00 M32.48 161.74 h2.40 M32.48 154.50 h2.40 M32.48 147.26 h2.40 M32.48 140.02 h2.40 M32.48 132.78 h4.00 M32.48 125.54 h2.40 M32.48 118.30 h2.40 M32.48 111.06 h2.40 M32.48 103.82 h2.40 M32.48 96.58 h4.00 M32.48 89.34 h2.40 M32.48 82.09 h2.40 M32.48 74.86 h2.40 M32.48 67.61 h2.40 M32.48 53.13 h2.40 M32.48 45.89 h2.40 M32.48 38.65 h2.40 M32.48 31.41 h2.40 M32.48 24.17 h4.00 M32.48 16.93 h2.40 M32.48 9.69 h2.40 M32.48 2.45 h2.40"/>
</g>
<defs><clipPath id="c0"><rect x="-50" y="63.00" width="700" height="13.95"/><rect x="121.42" y="75.50" width="1.92" height="3.50"/><rect x="-50" y="63.00" width="168.35" height="20"/><rect x="126.30" y="63.00" width="200" height="20"/></clipPath><clipPath id="c1"><rect x="-50" y="122.62" width="700" height="14.32"/><rect x="11.79" y="135.50" width="1.92" height="3.50"/><rect x="-50" y="122.62" width="58.72" height="20"/><rect x="16.67" y="122.62" width="200" height="20"/></clipPath><clipPath id="c2"><rect x="-50" y="158.83" width="700" height="14.12"/><rect x="11.79" y="171.50" width="1.92" height="3.50"/><rect x="-50" y="158.83" width="58.72" height="20"/><rect x="16.67" y="158.83" width="200" height="20"/></clipPath><clipPath id="c3"><rect x="-50" y="54.50" width="700" height="13.38"/><rect x="491.69" y="66.98" width="2.45" height="3.79"/><rect x="-50" y="54.50" width="538.66" height="20"/><rect x="497.07" y="54.50" width="200" height="20"/></clipPath></defs>
<g font-family="'Liberation Sans', sans-serif" font-size="13.8" fill="#000">
<text x="116.38" y="78.00" text-anchor="middle" clip-path="url(#c0)">0.1</text>
<text x="200.02" y="78.00" text-anchor="middle">0.2</text>
<text x="283.66" y="78.00" text-anchor="middle">0.3</text>
<text x="367.30" y="78.00" text-anchor="middle">0.4</text>
<text x="450.94" y="78.00" text-anchor="middle">0.5</text>
<text x="28.70" y="29.17" text-anchor="end">0.5</text>
<text x="27.85" y="101.42" text-anchor="end">−0.5</text>
<text x="27.85" y="137.62" text-anchor="end" clip-path="url(#c1)">−1.0</text>
<text x="27.85" y="173.83" text-anchor="end" clip-path="url(#c2)">−1.5</text>
<text x="27.85" y="210.03" text-anchor="end">−2.0</text>
<text x="27.85" y="246.22" text-anchor="end">−2.5</text>
</g>
<g font-family="'Liberation Sans', sans-serif" fill="#666" stroke="#666" stroke-width="0.25">
<text x="462.90" y="63.80" font-size="13.9" font-style="italic">b</text>
<text x="469.80" y="61.80" font-size="14.0">*</text>
<text x="469.40" y="69.50" font-size="13.6">2</text>
<text x="478.20" y="65.10" font-size="14.4">/</text>
<text x="482.10" y="63.80" font-size="13.9" font-style="italic">b</text>
<text x="489.30" y="61.80" font-size="14.0">*</text>
<text x="488.90" y="69.50" font-size="13.6" clip-path="url(#c3)" stroke-width="0.55">1</text>
</g>
</svg>
</body></html>
